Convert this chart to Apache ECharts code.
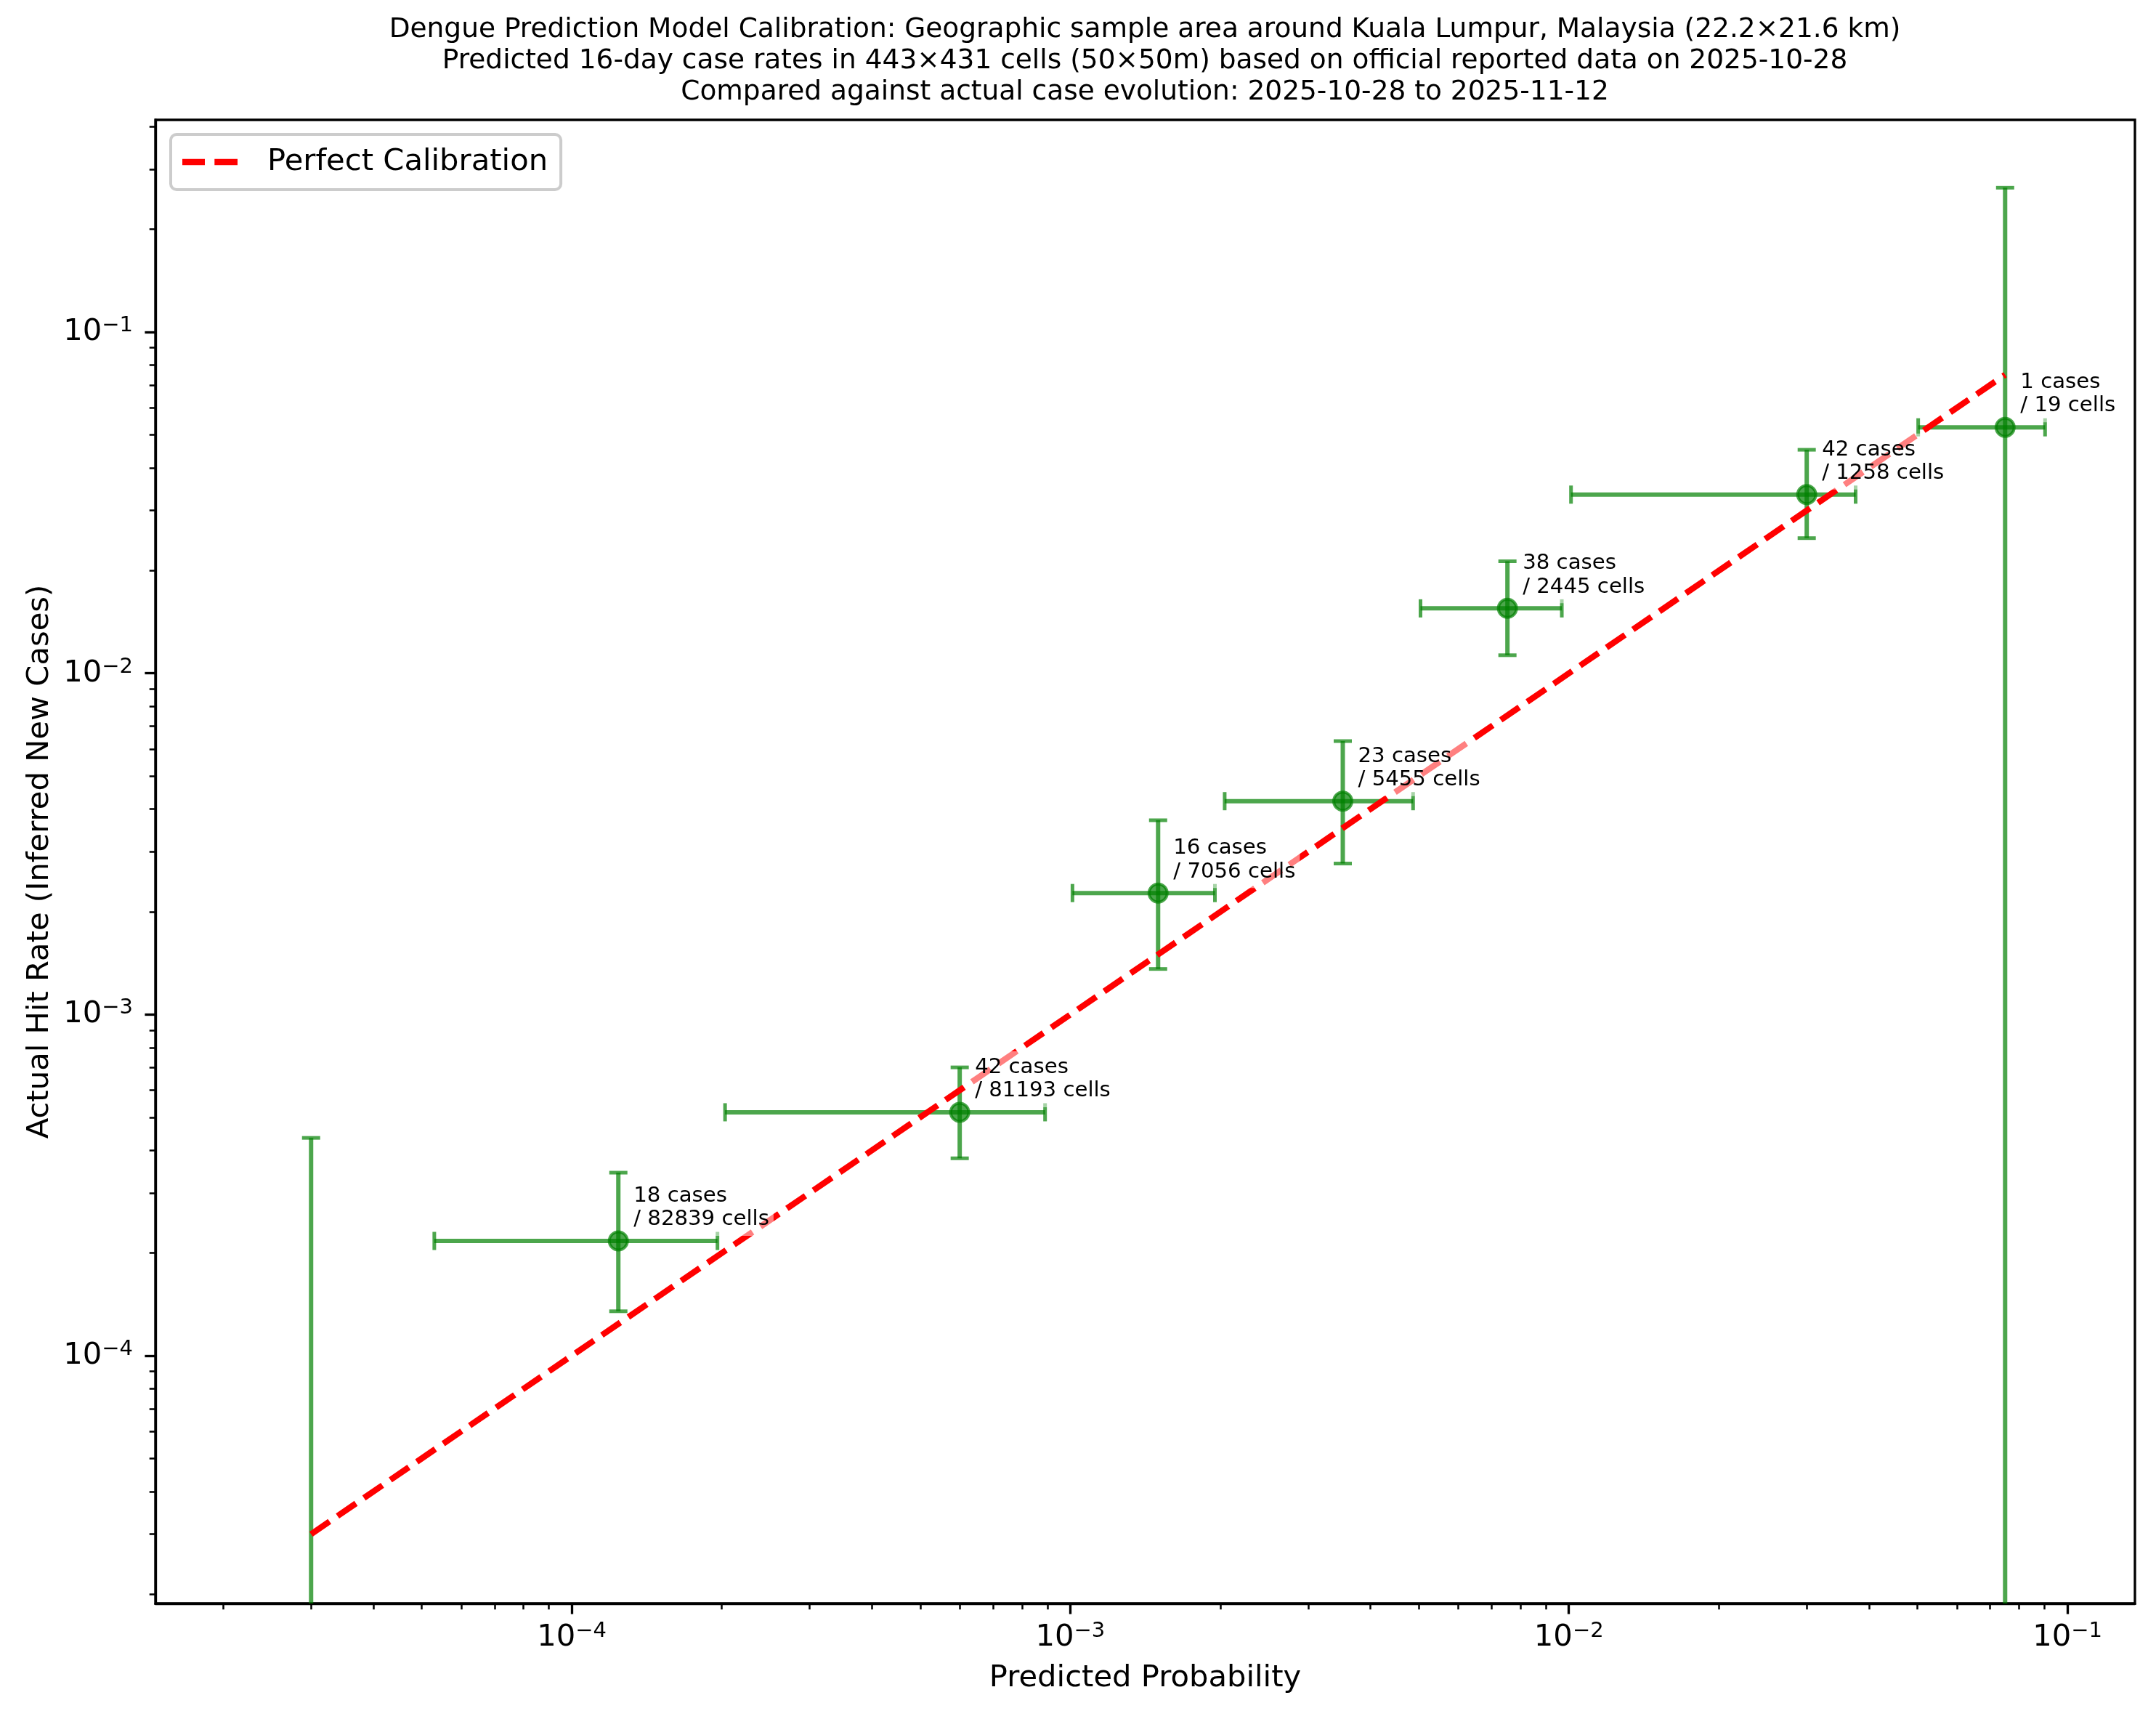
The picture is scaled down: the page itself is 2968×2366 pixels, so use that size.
<!DOCTYPE html>
<html>
<head>
<meta charset="utf-8">
<title>Dengue Prediction Model Calibration</title>
<script src="https://cdn.jsdelivr.net/npm/echarts@6/dist/echarts.min.js"></script>
</head>
<body style="margin:0;background:#fff">
<div id="container" style="width:2968px;height:2366px"></div>
<script>
// ---- data ----
var titleLines = [
    'Dengue Prediction Model Calibration: Geographic sample area around Kuala Lumpur, Malaysia (22.2\u00d721.6 km)',
    'Predicted 16-day case rates in 443\u00d7431 cells (50\u00d750m) based on official reported data on 2025-10-28',
    'Compared against actual case evolution: 2025-10-28 to 2025-11-12'
];
// bins that had cases
var binPred = [1.24e-4, 6.0e-4, 1.50e-3, 3.52e-3, 7.53e-3, 3.0e-2, 7.5e-2];
var binPredLow = [5.3e-5, 2.03e-4, 1.01e-3, 2.04e-3, 5.04e-3, 1.01e-2, 5.02e-2];
var binPredHigh = [1.96e-4, 8.9e-4, 1.95e-3, 4.87e-3, 9.68e-3, 3.76e-2, 9.02e-2];
var binRate = [2.17e-4, 5.17e-4, 2.27e-3, 4.22e-3, 1.55e-2, 3.34e-2, 5.26e-2];
var binRateLow = [1.35e-4, 3.79e-4, 1.36e-3, 2.77e-3, 1.13e-2, 2.49e-2, null];
var binRateHigh = [3.44e-4, 7.0e-4, 3.71e-3, 6.33e-3, 2.13e-2, 4.52e-2, 0.265];
var binCases = [18, 42, 16, 23, 38, 42, 1];
var binCells = [82839, 81193, 7056, 5455, 2445, 1258, 19];
// lowest bin: no cases, only the upper error bar is visible
var emptyPred = [3.0e-5];
var emptyRateHigh = [4.35e-4];
// diagonal
var calibX = [3.0e-5, 7.5e-2];

var xRange = [1.462e-5, 0.1366];
var yRange = [1.879e-5, 0.4188];
var xMajor = [1e-4, 1e-3, 1e-2, 1e-1];
var yMajor = [1e-4, 1e-3, 1e-2, 1e-1];
var minorMult = [2, 3, 4, 5, 6, 7, 8, 9];
var minorDecades = [1e-5, 1e-4, 1e-3, 1e-2, 1e-1];

var FONT = 'DejaVu Sans';
var GREEN = 'rgba(0,128,0,0.7)';

function minorTicks(range) {
    var out = [];
    minorDecades.forEach(function (d) {
        minorMult.forEach(function (m) {
            var v = +(d * m).toPrecision(3);
            if (v > range[0] && v < range[1]) out.push(v);
        });
    });
    return out;
}

function expLabel(v) {
    var e = Math.round(Math.log10(v));
    return '{b|10}{s|' + (e < 0 ? '\u2212' : '') + Math.abs(e) + '}';
}
var labelRich = {
    b: {fontSize: 41.7, fontFamily: FONT, color: '#000', lineHeight: 46},
    s: {fontSize: 29, fontFamily: FONT, color: '#000', lineHeight: 30, verticalAlign: 'top'}
};

var rows = [];
for (var i = 0; i < binPred.length; i++) {
    rows.push({x: binPred[i], y: binRate[i], xLo: binPredLow[i], xHi: binPredHigh[i],
        yLo: binRateLow[i], yHi: binRateHigh[i]});
}
for (var j = 0; j < emptyPred.length; j++) {
    rows.push({x: emptyPred[j], y: null, yLo: null, yHi: emptyRateHigh[j]});
}

function seg(x1, y1, x2, y2, w) {
    return {type: 'line', shape: {x1: x1, y1: y1, x2: x2, y2: y2},
        style: {stroke: GREEN, lineWidth: w, lineCap: 'butt'}};
}

function renderErr(params, api) {
    var r = rows[params.dataIndex];
    var cs = params.coordSys;
    var bottom = cs.y + cs.height + 40;
    var lw = 6, cap = 12.5, capW = 5;
    var kids = [];
    var top = api.coord([r.x, r.yHi]);
    var lowY = r.yLo ? api.coord([r.x, r.yLo])[1] : bottom;
    kids.push(seg(top[0], top[1], top[0], lowY, lw));
    kids.push(seg(top[0] - cap, top[1], top[0] + cap, top[1], capW));
    if (r.yLo) kids.push(seg(top[0] - cap, lowY, top[0] + cap, lowY, capW));
    if (r.y != null) {
        var a = api.coord([r.xLo, r.y]);
        var b = api.coord([r.xHi, r.y]);
        kids.push(seg(a[0], a[1], b[0], b[1], lw));
        kids.push(seg(a[0], a[1] - cap, a[0], a[1] + cap, capW));
        kids.push(seg(b[0], b[1] - cap, b[0], b[1] + cap, capW));
        var c = api.coord([r.x, r.y]);
        kids.push({type: 'circle', shape: {cx: c[0], cy: c[1], r: 12.5},
            style: {fill: GREEN, stroke: GREEN, lineWidth: 4}});
    }
    return {type: 'group', children: kids};
}

function renderNote(params, api) {
    var k = params.dataIndex;
    var p = api.coord([binPred[k], binRate[k]]);
    return {
        type: 'text', x: p[0] + 15, y: p[1] - 7,
        style: {
            text: binCases[k] + ' cases\n/ ' + binCells[k] + ' cells',
            fill: '#000', fontSize: 29.2, fontFamily: FONT, lineHeight: 32.5,
            align: 'left', verticalAlign: 'bottom',
            backgroundColor: 'rgba(255,255,255,0.5)', padding: 6, borderRadius: 6
        }
    };
}

function logAxis(range, major, pos, extra) {
    var base = {
        type: 'log', logBase: 10, min: range[0], max: range[1], position: pos,
        splitLine: {show: false},
        axisLine: {show: true, lineStyle: {color: '#000', width: 3.33}},
        axisTick: {show: true, inside: false, customValues: major, length: 14.6,
            lineStyle: {color: '#000', width: 3.33}},
        axisLabel: {customValues: major, formatter: expLabel, rich: labelRich}
    };
    return Object.assign(base, extra);
}
function minorAxis(range, pos) {
    return {
        type: 'log', logBase: 10, min: range[0], max: range[1], position: pos,
        splitLine: {show: false}, axisLine: {show: false}, axisLabel: {show: false},
        axisTick: {show: true, inside: false, customValues: minorTicks(range), length: 8.3,
            lineStyle: {color: '#000', width: 2.5}}
    };
}

var chart = echarts.init(document.getElementById('container'), null, {renderer: 'canvas', width: 2968, height: 2366});

var xMain = logAxis(xRange, xMajor, 'bottom', {
    name: 'Predicted Probability', nameLocation: 'middle', nameGap: 82,
    nameTextStyle: {fontSize: 41.7, fontFamily: FONT, color: '#000', verticalAlign: 'top'}
});
xMain.axisLabel.margin = 24;
var yMain = logAxis(yRange, yMajor, 'left', {
    name: 'Actual Hit Rate (Inferred New Cases)', nameLocation: 'middle', nameGap: 135,
    nameTextStyle: {fontSize: 41.7, fontFamily: FONT, color: '#000'}
});
yMain.axisLabel.margin = 31;

// two-dash legend handle, like a dashed line sample
var dashIcon = 'path://M0,0H31V8.3H0Z M44.3,0H76V8.3H44.3Z';

chart.setOption({
    animation: false,
    backgroundColor: '#fff',
    title: {
        text: titleLines.join('\n'),
        left: 1576, top: 20, textAlign: 'center', padding: 0,
        textStyle: {fontSize: 37.5, fontWeight: 'normal', fontFamily: FONT, color: '#000', lineHeight: 43}
    },
    legend: {
        data: [{name: 'Perfect Calibration', icon: dashIcon}],
        left: 235, top: 185,
        padding: [17, 18, 17, 16],
        itemWidth: 76, itemHeight: 8.3,
        selectedMode: false,
        backgroundColor: 'rgba(255,255,255,0.8)',
        borderColor: '#cccccc', borderWidth: 4, borderRadius: 8,
        itemStyle: {color: 'red', borderWidth: 0},
        formatter: '{a|{name}}',
        textStyle: {
            rich: {a: {fontSize: 41.7, fontFamily: FONT, color: '#000', lineHeight: 43, padding: [0, 0, 0, 36]}}
        }
    },
    grid: {
        left: 214, top: 165, right: 29, bottom: 159,
        containLabel: false, outerBoundsMode: 'none',
        show: true, borderColor: '#000', borderWidth: 3.33, backgroundColor: 'transparent'
    },
    xAxis: [xMain, minorAxis(xRange, 'bottom')],
    yAxis: [yMain, minorAxis(yRange, 'left')],
    series: [
        {
            name: 'errors', type: 'custom', z: 2, clip: true,
            xAxisIndex: 0, yAxisIndex: 0,
            data: rows.map(function (r) { return [r.x, r.y == null ? r.yHi : r.y]; }),
            renderItem: renderErr
        },
        {
            name: 'Perfect Calibration', type: 'line', z: 3,
            xAxisIndex: 0, yAxisIndex: 0,
            symbol: 'none', showSymbol: false,
            lineStyle: {color: 'red', width: 8.33, type: [30.8, 13.3], cap: 'butt'},
            itemStyle: {color: 'red'},
            data: calibX.map(function (v) { return [v, v]; })
        },
        {
            name: 'notes', type: 'custom', z: 4, clip: false,
            xAxisIndex: 0, yAxisIndex: 0,
            data: binPred.map(function (v, k) { return [v, binRate[k]]; }),
            renderItem: renderNote
        }
    ]
});
</script>
</body>
</html>
